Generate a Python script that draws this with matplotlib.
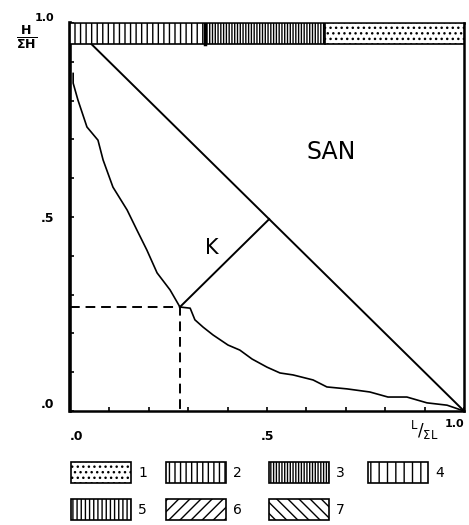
import matplotlib
matplotlib.use("Agg")
import matplotlib.pyplot as plt
from matplotlib.patches import Rectangle

# courbe de concentration
curve_x = [0.008, 0.008, 0.020, 0.043, 0.071, 0.084, 0.109, 0.145, 0.170, 0.195,
           0.221, 0.254, 0.279, 0.305, 0.317, 0.338, 0.363, 0.401, 0.431, 0.462,
           0.500, 0.533, 0.566, 0.617, 0.652, 0.703, 0.761, 0.807, 0.855, 0.906,
           0.957, 1.000]
curve_y = [0.870, 0.845, 0.802, 0.732, 0.698, 0.647, 0.577, 0.518, 0.466, 0.415,
           0.356, 0.312, 0.268, 0.265, 0.235, 0.216, 0.196, 0.170, 0.157, 0.134,
           0.113, 0.098, 0.093, 0.080, 0.062, 0.057, 0.049, 0.036, 0.036, 0.021,
           0.015, 0.000]

# point K sur la courbe
k_point = (0.279, 0.268)

# bande du haut : limites des segments et motif
band_edges = [0.0, 0.343, 0.647, 1.0]
band_types = [2, 3, 1]

# légende
legend_ids = [1, 2, 3, 4, 5, 6, 7]
hatches = {1: "...", 2: "|||", 3: "||||||", 4: "||", 5: "||||", 6: "///", 7: "\\\\\\"}

plt.rcParams["hatch.linewidth"] = 1.0
plt.rcParams["font.family"] = "DejaVu Sans"

fig = plt.figure(figsize=(4.69, 5.25), dpi=100)
ax = fig.add_axes([70 / 469, 1 - 411 / 525, 394 / 469, 388 / 525])
ax.set_xlim(0, 1)
ax.set_ylim(0, 1)

# diagonale d'égalité
ax.plot([0, 1], [1, 0], color="black", lw=1.4, zorder=2)
# courbe
ax.plot(curve_x, curve_y, color="black", lw=1.2, zorder=3)
# K : perpendiculaire vers la diagonale
kx, ky = k_point
d = (kx + ky - 1) / 2
ax.plot([kx, kx - d], [ky, ky - d], color="black", lw=1.4, zorder=3)
# pointillés
ax.plot([0, kx, kx], [ky, ky, 0], color="black", lw=1.4, dashes=(5, 3), zorder=3)

# bande des motifs
for i, t in enumerate(band_types):
    r = Rectangle((band_edges[i], 0.945), band_edges[i + 1] - band_edges[i], 0.055,
                  facecolor="white", edgecolor="black", hatch=hatches[t], lw=1.2, zorder=4)
    ax.add_patch(r)
ax.plot([band_edges[1], band_edges[1]], [0.945, 1.0], color="black", lw=2.5, zorder=5)

ax.text(0.36, 0.42, "K", fontsize=15, ha="center", va="center")
ax.text(0.662, 0.667, "SAN", fontsize=17, ha="center", va="center")

ticks = [i / 10 for i in range(11)]
labels = ["" for _ in ticks]
labels[0], labels[5], labels[10] = ".0", ".5", "1.0"
ax.set_xticks(ticks)
ax.set_yticks(ticks)
ax.set_xticklabels(labels, fontsize=9, fontweight="bold")
ax.set_yticklabels(labels, fontsize=9, fontweight="bold")
ax.tick_params(direction="in", length=3, width=1.2)
ax.tick_params(axis="x", pad=14)
ax.tick_params(axis="y", pad=11)
xl = ax.get_xticklabels()
xl[0].set_ha("left")
xl[10].set_ha("right")
xl[10].set_fontsize(8)
xl[10].set_y(0.03)
yl = ax.get_yticklabels()
yl[10].set_va("bottom")
yl[10].set_fontsize(8)
yl[0].set_va("bottom")
for s in ax.spines.values():
    s.set_linewidth(1.8)
ax.spines["left"].set_linewidth(2.6)

fig.text(27 / 469, 1 - 37 / 525, r"$\mathbf{\frac{H}{\Sigma H}}$", fontsize=13,
         ha="center", va="center")
fig.text(424 / 469, 1 - 430 / 525, r"$^{\mathsf{L}}/_{\mathsf{\Sigma L}}$", fontsize=12,
         ha="center", va="center")

# légende en bas
lax = fig.add_axes([0, 0, 1, 1])
lax.set_xlim(0, 469)
lax.set_ylim(525, 0)
lax.axis("off")
col_x = [71, 166, 269, 368]
row_y = [462, 499]
for n, lid in enumerate(legend_ids):
    x0 = col_x[n % 4]
    y0 = row_y[n // 4]
    lax.add_patch(Rectangle((x0, y0), 60, 21, facecolor="white", edgecolor="black",
                            hatch=hatches[lid], lw=1.2))
    lax.text(x0 + 67, y0 + 11, str(lid), fontsize=10, ha="left", va="center")

fig.savefig("out.png", dpi=100)
